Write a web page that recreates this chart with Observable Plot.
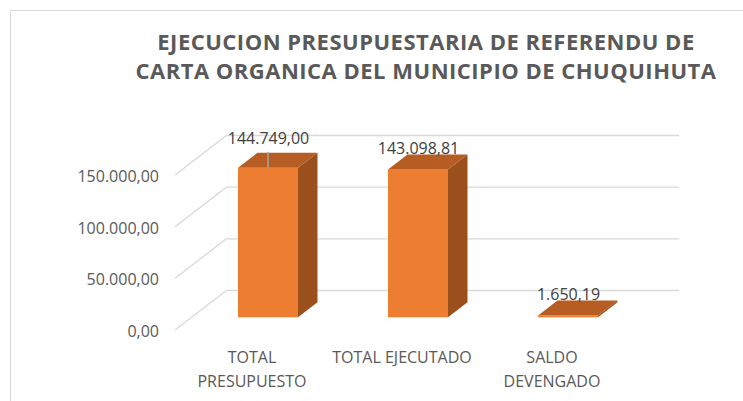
<!DOCTYPE html>
<html><head><meta charset="utf-8">
<script src="https://cdn.jsdelivr.net/npm/d3@7"></script>
<script src="https://cdn.jsdelivr.net/npm/@observablehq/plot@0.6"></script>
<style>
html,body{margin:0;padding:0;background:#fff;overflow:hidden;}
#wrap{position:relative;width:743px;height:401px;overflow:hidden;font-family:"Open Sans",sans-serif;}
#frame{position:absolute;left:10px;top:10px;width:800px;height:500px;border:1.3px solid #d9d9d9;box-sizing:border-box;}
#title{position:absolute;left:110px;width:632px;top:27px;text-align:center;font-size:22px;letter-spacing:0.5px;font-weight:bold;line-height:29px;color:#595959;white-space:nowrap;}
#chart{position:absolute;left:0;top:90px;}
</style>
</head><body>
<div id="wrap">
  <div id="frame"></div>
  <div id="title">EJECUCION PRESUPUESTARIA DE REFERENDU DE<br>CARTA ORGANICA DEL MUNICIPIO DE CHUQUIHUTA</div>
  <div id="chart"></div>
</div>
<script>
const categories = ["TOTAL PRESUPUESTO", "TOTAL EJECUTADO", "SALDO DEVENGADO"];
const categoryLabels = ["TOTAL\nPRESUPUESTO", "TOTAL EJECUTADO", "SALDO\nDEVENGADO"];
const values = [144749.00, 143098.81, 1650.19];
const yTicks = [0, 50000, 100000, 150000];

const data = categories.map((c, i) => ({cat: c, label: categoryLabels[i], value: values[i], i}));
const fmt = d3.formatLocale({decimal: ",", thousands: ".", grouping: [3], currency: ["", ""]}).format(",.2f");

// depth geometry (pixels)
const DX = 19.5, DY = -15;           // bar depth
const BACK_DX = 35.5, BACK_DY = -27.3; // bar front plane -> back wall
const FRONT_DX = -16.5, FRONT_DY = 12.7; // bar front plane -> floor front edge
const GRID = "#d9d9d9", TEXT = "#595959";

function slantedGrid(index, scales, vals, dims) {
  const g = d3.create("svg:g").attr("stroke", GRID).attr("stroke-width", 1.3).attr("fill", "none");
  const x0 = dims.marginLeft;
  for (const t of yTicks) {
    const yy = scales.y(t);
    g.append("line")
      .attr("x1", x0 + FRONT_DX).attr("y1", yy + FRONT_DY)
      .attr("x2", x0 + BACK_DX).attr("y2", yy + BACK_DY);
  }
  return g.node();
}

function faces(index, scales, vals, dims) {
  const g = d3.create("svg:g");
  const bw = scales.x.bandwidth();
  for (const d of data) {
    const x0 = scales.x(d.cat), x1 = x0 + bw;
    const yT = scales.y(d.value), yB = scales.y(0);
    g.append("polygon")
      .attr("points", [[x1, yB], [x1, yT], [x1 + DX, yT + DY], [x1 + DX, yB + DY]].join(" "))
      .attr("fill", "#9a4f1c");
    g.append("polygon")
      .attr("points", [[x0, yT], [x1, yT], [x1 + DX, yT + DY], [x0 + DX, yT + DY]].join(" "))
      .attr("fill", "#b55d22");
  }
  return g.node();
}

function leader(index, scales, vals, dims) {
  const g = d3.create("svg:g");
  const d = data[0];
  const cx = scales.x(d.cat) + scales.x.bandwidth() / 2;
  const yT = scales.y(d.value);
  g.append("line").attr("x1", cx).attr("x2", cx).attr("y1", yT - 16).attr("y2", yT)
    .attr("stroke", "#a6a6a6").attr("stroke-width", 1.5);
  return g.node();
}

const plot = Plot.plot({
  width: 743,
  height: 311,
  marginLeft: 191.5,
  marginRight: 99.2,
  marginTop: 72.3,
  marginBottom: 83.7,
  style: {fontFamily: "'Open Sans', sans-serif", fontSize: "16px", color: TEXT, background: "transparent", overflow: "visible"},
  x: {domain: categories, paddingInner: 0.6, paddingOuter: 0.3, axis: null},
  y: {domain: [0, 150000], axis: null},
  marks: [
    slantedGrid,
    Plot.ruleY(yTicks, {stroke: GRID, strokeWidth: 1.3, dx: BACK_DX, dy: BACK_DY}),
    Plot.text(yTicks, {y: d => d, frameAnchor: "left", textAnchor: "end", dx: -33, dy: 14, text: d => fmt(d), fill: TEXT, fontSize: 16}),
    Plot.barY(data, {x: "cat", y: "value", fill: "#ed7d31"}),
    faces,
    leader,
    Plot.text(data, {x: "cat", y: "value", text: d => fmt(d.value), fill: "#404040", fontSize: 16,
      filter: d => d.i !== 0, dy: -21}),
    Plot.text(data, {x: "cat", y: "value", text: d => fmt(d.value), fill: "#404040", fontSize: 16,
      filter: d => d.i === 0, dy: -29.5}),
    Plot.text(data, {x: "cat", text: "label", frameAnchor: "bottom", lineAnchor: "top", lineHeight: 1.56,
      dx: FRONT_DX, dy: 27, fill: TEXT, fontSize: 16})
  ]
});
document.getElementById("chart").appendChild(plot);
</script>
</body></html>
